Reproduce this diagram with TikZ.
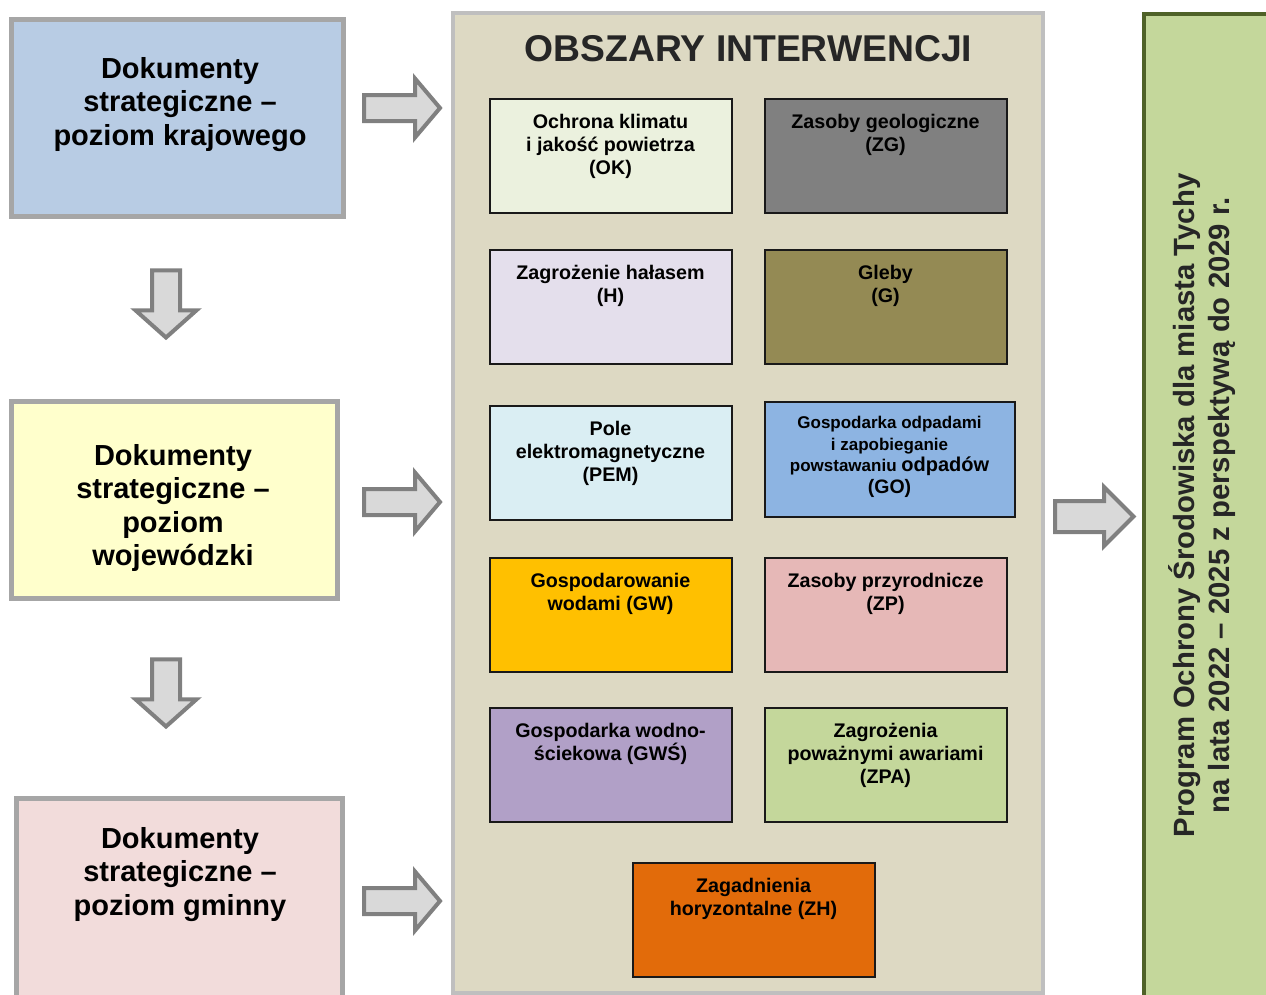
\documentclass[tikz,border=0pt]{standalone}
\usepackage{fontspec}
\setmainfont{Liberation Sans}
\usetikzlibrary{calc}
\definecolor{bluebox}{HTML}{B8CCE4}
\definecolor{yellowbox}{HTML}{FFFFCC}
\definecolor{pinkbox}{HTML}{F2DCDB}
\definecolor{boxgray}{HTML}{A6A6A6}
\definecolor{panelfill}{HTML}{DDD9C3}
\definecolor{panelborder}{HTML}{BFBFBF}
\definecolor{arrowfill}{HTML}{D9D9D9}
\definecolor{arrowdraw}{HTML}{808080}
\definecolor{greenfill}{HTML}{C4D79B}
\definecolor{greendraw}{HTML}{4F6228}
\definecolor{textdark}{HTML}{262626}
\definecolor{cOK}{HTML}{EBF1DE}
\definecolor{cZG}{HTML}{808080}
\definecolor{cH}{HTML}{E4DFEC}
\definecolor{cG}{HTML}{948A54}
\definecolor{cPEM}{HTML}{DAEEF3}
\definecolor{cGO}{HTML}{8DB4E2}
\definecolor{cGW}{HTML}{FFC000}
\definecolor{cZP}{HTML}{E6B8B7}
\definecolor{cGWS}{HTML}{B1A0C7}
\definecolor{cZPA}{HTML}{C4D79B}
\definecolor{cZH}{HTML}{E26B0A}
\tikzset{
  docbox/.style={draw=boxgray, line width=5pt, outer sep=0pt, inner sep=0pt},
  doctext/.style={anchor=north, align=center, inner sep=0pt,
    font=\fontsize{29}{33.5}\selectfont\bfseries},
  ibox/.style={draw=black!90, line width=2pt, outer sep=0pt, inner sep=0pt,
    minimum width=242pt, minimum height=114pt},
  itext/.style={anchor=north, align=center, inner sep=0pt,
    font=\fontsize{19.7}{23}\selectfont\bfseries},
  barrow/.style={draw=arrowdraw, fill=arrowfill, line width=4pt, line join=miter},
  rarrow/.pic={\draw[barrow] (-38,-13) -- (13,-13) -- (13,-29.5) -- (38,0) -- (13,29.5) -- (13,13) -- (-38,13) -- cycle;},
  rarrowwide/.pic={\draw[barrow] (-39.5,-15.5) -- (9.5,-15.5) -- (9.5,-29.5) -- (39,0) -- (9.5,29.5) -- (9.5,15.5) -- (-39.5,15.5) -- cycle;},
  darrow/.pic={\draw[barrow] (-14,-33.7) -- (14,-33.7) -- (14,6.3) -- (30.5,6.3) -- (0,33.5) -- (-30.5,6.3) -- (-14,6.3) -- (-14,-33.7) -- cycle;}
}
\begin{document}
\begin{tikzpicture}[x=1pt,y=-1pt]
\useasboundingbox (0,0) rectangle (1266,994);
\clip (0,0) rectangle (1266,994);
\fill[white] (0,0) rectangle (1266,994);

% left document boxes
\node[docbox, fill=bluebox, minimum width=332pt, minimum height=197pt] (b1) at (177.5,118) {};
\node[doctext] (t1) at (180,57) {Dokumenty\\strategiczne --\\poziom krajowego};
\node[docbox, fill=yellowbox, minimum width=326pt, minimum height=197pt] (b2) at (174.5,500) {};
\node[doctext] (t2) at (173,444) {Dokumenty\\strategiczne --\\poziom\\wojewódzki};
\node[docbox, fill=pinkbox, minimum width=326pt, minimum height=230pt] (b3) at (179.5,913.5) {};
\node[doctext] (t3) at (180,827) {Dokumenty\\strategiczne --\\poziom gminny};

% arrows
\pic at (166,304) {darrow};
\pic at (166,693) {darrow};
\pic at (402,108) {rarrow};
\pic at (402,502) {rarrow};
\pic at (402,901) {rarrow};
\pic at (1094.5,516.5) {rarrowwide};

% middle panel
\node[draw=panelborder, fill=panelfill, line width=4pt, outer sep=0pt, inner sep=0pt,
  minimum width=590pt, minimum height=980pt] (panel) at (748,503) {};
\node[anchor=base, inner sep=0pt, text=textdark, font=\fontsize{37.3}{40}\selectfont\bfseries]
  (title) at (748.5,61) {OBSZARY INTERWENCJI};

\node[ibox, fill=cOK] (ok) at (610.5,155.5) {};
\node[itext, yshift=-15.5pt] (okt) at (ok.north) {Ochrona klimatu\\i jakość powietrza\\(OK)};
\node[ibox, fill=cZG] (zg) at (885.5,155.5) {};
\node[itext, yshift=-15.5pt] (zgt) at (zg.north) {Zasoby geologiczne\\(ZG)};

\node[ibox, fill=cH] (h) at (610.5,306.5) {};
\node[itext, yshift=-15.5pt] (ht) at (h.north) {Zagrożenie hałasem\\(H)};
\node[ibox, fill=cG] (g) at (885.5,306.5) {};
\node[itext, yshift=-15.5pt] (gt) at (g.north) {Gleby\\(G)};

\node[ibox, fill=cPEM] (pem) at (610.5,462.5) {};
\node[itext, yshift=-15.5pt] (pemt) at (pem.north) {Pole\\elektromagnetyczne\\(PEM)};
\node[ibox, fill=cGO, minimum width=250pt, minimum height=115pt] (go) at (889.5,459) {};
\node[itext, yshift=-14.5pt, font=\fontsize{17}{21.5}\selectfont\bfseries] (got) at (go.north)
  {Gospodarka odpadami\\i zapobieganie\\powstawaniu {\fontsize{20}{21.5}\selectfont odpadów}\\{\fontsize{19.5}{21.5}\selectfont (GO)}};

\node[ibox, fill=cGW] (gw) at (610.5,614.5) {};
\node[itext, yshift=-15.5pt] (gwt) at (gw.north) {Gospodarowanie\\wodami (GW)};
\node[ibox, fill=cZP] (zp) at (885.5,614.5) {};
\node[itext, yshift=-15.5pt] (zpt) at (zp.north) {Zasoby przyrodnicze\\(ZP)};

\node[ibox, fill=cGWS] (gws) at (610.5,764.5) {};
\node[itext, yshift=-15.5pt] (gwst) at (gws.north) {Gospodarka wodno-\\ściekowa (GWŚ)};
\node[ibox, fill=cZPA] (zpa) at (885.5,764.5) {};
\node[itext, yshift=-15.5pt] (zpat) at (zpa.north) {Zagrożenia\\poważnymi awariami\\(ZPA)};

\node[ibox, fill=cZH] (zh) at (753.5,919.5) {};
\node[itext, yshift=-15.5pt] (zht) at (zh.north) {Zagadnienia\\horyzontalne (ZH)};

% right box
\node[draw=greendraw, fill=greenfill, line width=4pt, outer sep=0pt, inner sep=0pt,
  minimum width=200pt, minimum height=1020pt] (prog) at (1244,524) {};
\node[rotate=90, align=center, inner sep=0pt, text=textdark,
  font=\fontsize{29.3}{35}\selectfont\bfseries] (progt) at (1202.5,505.5)
  {Program Ochrony Środowiska dla miasta Tychy\\na lata 2022 -- 2025 z perspektywą do 2029 r.};
\end{tikzpicture}
\end{document}
